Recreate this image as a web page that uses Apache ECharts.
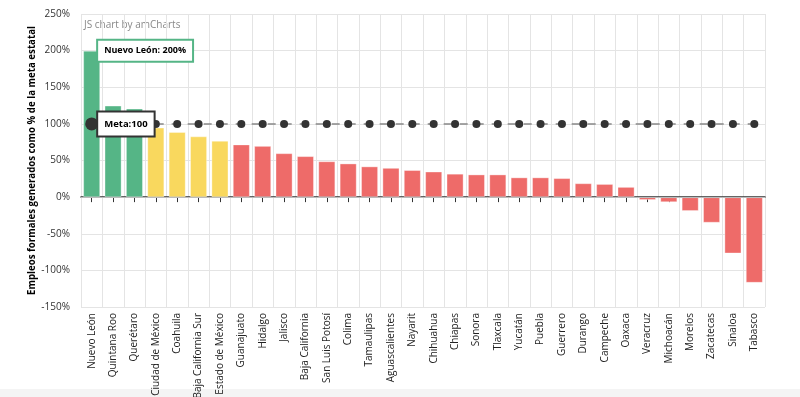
<!DOCTYPE html>
<html>
<head>
<meta charset="utf-8">
<script src="https://cdn.jsdelivr.net/npm/echarts@6/dist/echarts.min.js"></script>
<style>
html,body{margin:0;padding:0;background:#fff;}
#chart{width:800px;height:397px;}
</style>
</head>
<body>
<div id="chart"></div>
<script>
// estados ordenados por avance
var estados = ['Nuevo León','Quintana Roo','Querétaro','Ciudad de México','Coahuila','Baja California Sur','Estado de México','Guanajuato','Hidalgo','Jalisco','Baja California','San Luis Potosí','Colima','Tamaulipas','Aguascalientes','Nayarit','Chihuahua','Chiapas','Sonora','Tlaxcala','Yucatán','Puebla','Guerrero','Durango','Campeche','Oaxaca','Veracruz','Michoacán','Morelos','Zacatecas','Sinaloa','Tabasco'];
var avance = [200,125,121,95,89,83,77,72,70,60,56,49,46,42,40,37,35,32,31,31,27,27,26,19,18,14,-4,-7,-19,-35,-77,-117];
var meta = 100;

var verde = '#55b586', amarillo = '#f9d85e', rojo = '#ee6b69';

function colorDe(v){
	if(v>=100) return verde;
	if(v>=75) return amarillo;
	return rojo;
}

var barData = [];
for(var i=0;i<avance.length;i++){
	var item = {value:avance[i],itemStyle:{color:colorDe(avance[i])}};
	if(i==0){
		item.label = {
			show:true,
			position:[15,0],
			verticalAlign:'middle',
			formatter:estados[0]+': '+avance[0]+'%',
			fontWeight:'bold',
			fontSize:9,
			color:'#000',
			backgroundColor:'#fff',
			borderColor:verde,
			borderWidth:2,
			padding:[6,6,5,6]
		};
	}
	barData.push(item);
}

var metaData = [];
for(var i=0;i<estados.length;i++){
	var p = {value:meta};
	if(i==0){
		p.symbolSize = 13;
		p.label = {
			show:true,
			position:'right',
			distance:0,
			formatter:'Meta:'+meta,
			fontWeight:'bold',
			fontSize:9.5,
			color:'#000',
			backgroundColor:'#fff',
			borderColor:'#333',
			borderWidth:2,
			padding:[7,6,6,6]
		};
	}
	metaData.push(p);
}

var myChart = echarts.init(document.getElementById('chart'));
myChart.setOption({
	backgroundColor:'#fff',
	animation:false,
	textStyle:{fontFamily:'Open Sans'},
	grid:{left:81,right:35,top:14,bottom:90,outerBoundsMode:'none',containLabel:false},
	graphic:[
		{type:'text',left:84,top:20,style:{text:'JS chart by amCharts',fill:'#888',font:'10px Open Sans'}},
		{type:'rect',z:-10,shape:{x:0,y:389,width:800,height:8},style:{fill:'#f4f4f4'}}
	],
	xAxis:{
		type:'category',
		data:estados,
		axisLine:{lineStyle:{color:'#333',width:1.5}},
		axisTick:{show:true,alignWithLabel:true,length:5,lineStyle:{color:'#333'}},
		axisLabel:{rotate:90,interval:0,fontSize:10,color:'#222',margin:6},
		splitLine:{show:true,lineStyle:{color:'#e4e4e4'}}
	},
	yAxis:{
		type:'value',
		min:-150,max:250,interval:50,
		name:'Empleos formales generados como % de la meta estatal',
		nameLocation:'middle',
		nameGap:44,
		nameMoveOverlap:false,
		nameTextStyle:{fontWeight:'bold',fontSize:9.7,color:'#000'},
		axisLine:{show:false},
		axisTick:{show:false},
		axisLabel:{formatter:'{value}%',fontSize:10,color:'#333',margin:11},
		splitLine:{lineStyle:{color:'#e4e4e4'}}
	},
	series:[
		{
			name:'Avance',
			type:'bar',
			data:barData,
			barCategoryGap:'20%',
			itemStyle:{borderColor:'rgba(255,255,255,0.35)',borderWidth:1},
			markLine:{silent:true,symbol:'none',label:{show:false},lineStyle:{color:'#bbb',type:'solid',width:1},data:[{yAxis:0}]},
			z:2
		},
		{
			name:'Meta',
			type:'line',
			data:metaData,
			symbol:'circle',
			symbolSize:8,
			itemStyle:{color:'#333'},
			lineStyle:{color:'#888',type:[8,8],width:1.5},
			z:5
		}
	]
});
</script>
</body>
</html>
